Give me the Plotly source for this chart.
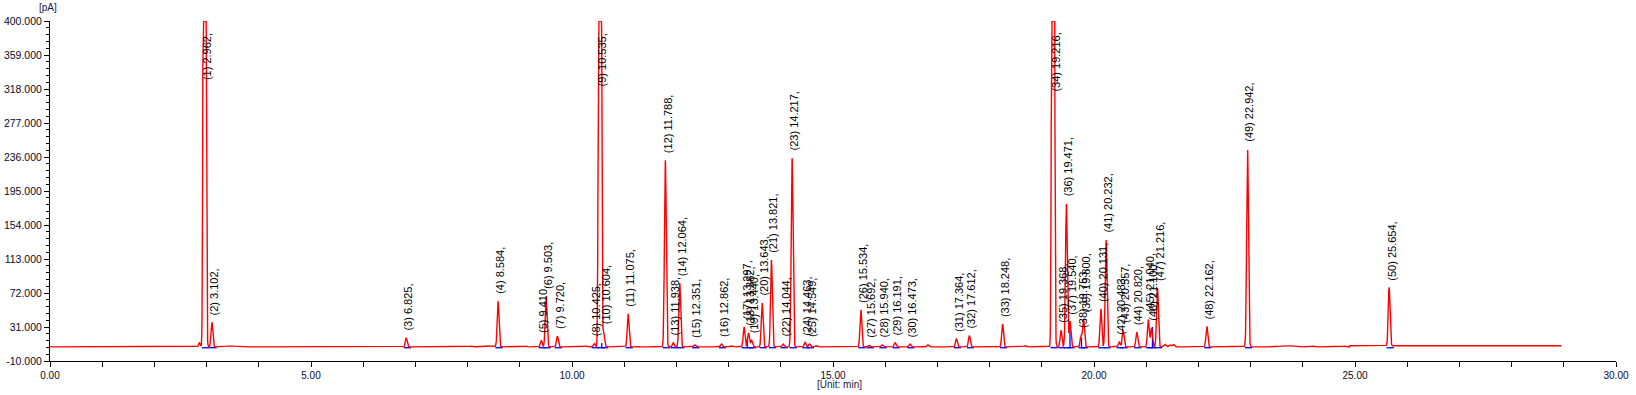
import numpy as np
import plotly.graph_objects as go

# ---- peak table ----
peak_no = list(range(1, 51))
peak_rt = [2.962, 3.102, 6.825, 8.584, 9.410, 9.503, 9.720, 10.425, 10.535, 10.604,
           11.075, 11.788, 11.938, 12.064, 12.351, 12.862, 13.297, 13.382, 13.440, 13.643,
           13.821, 14.044, 14.217, 14.463, 14.549, 15.534, 15.692, 15.940, 16.191, 16.473,
           17.364, 17.612, 18.248, 19.216, 19.368, 19.471, 19.540, 19.753, 19.800, 20.131,
           20.232, 20.483, 20.557, 20.820, 21.040, 21.100, 21.216, 22.162, 22.942, 25.654]
# apex signal in pA (values above 400 are off scale)
peak_height = [2500, 37, 18, 62, 15, 68, 20, 11, 2500, 26,
               47, 232, 12, 84, 9.5, 10.5, 31, 24, 15, 60,
               112, 10.5, 235, 12.5, 10.5, 52, 9, 9.5, 12, 10.5,
               16.5, 20.5, 34.6, 2500, 27, 180, 38, 21, 40, 53,
               136, 13, 27, 25, 40, 30, 78, 32, 246, 78]

# small unlabelled bumps on the baseline (rt, height above baseline, width)
bump_rt = [2.86, 3.45, 8.08, 8.35, 9.12, 10.25, 11.25, 13.05, 14.68, 16.82, 18.68,
           21.36, 21.45, 21.52, 23.70, 24.20, 24.80]
bump_h = [5, 1.2, 1.0, 1.5, 1.0, 1.2, 1.0, 1.2, 1.5, 2.5, 1.5,
          3.0, 2.5, 3.0, 1.5, 1.0, 1.0]
bump_w = [0.015, 0.10, 0.02, 0.10, 0.02, 0.03, 0.03, 0.03, 0.02, 0.02, 0.02,
          0.02, 0.02, 0.02, 0.12, 0.03, 0.03]

# small blue marks (second trace / integration marks)
blue_rt = [10.57, 13.36, 19.540, 19.760, 21.120]
blue_h = [11.7, 16.5, 36, 18, 31]

baseline_early = 7.0
baseline_late = 8.4
baseline_step = 24.9
run_end = 28.96
y_max = 400.0
y_min = -10.0

# ---- build the signal from the peak table ----
t = np.arange(0, run_end, 0.004)
base = np.where(t < baseline_step, baseline_early, baseline_late)
sig = base.copy()
sigma = 0.017
for rt, h in zip(peak_rt, peak_height):
    sig += (h - baseline_early) * np.exp(-0.5 * ((t - rt) / sigma) ** 2)
for rt, h, w in zip(bump_rt, bump_h, bump_w):
    sig += h * np.exp(-0.5 * ((t - rt) / w) ** 2)
sig = np.minimum(sig, y_max)

fig = go.Figure()

# integration baselines (blue) under each labelled peak
bx, by = [], []
for rt in peak_rt:
    bx += [rt - 0.05, rt + 0.09, None]
    by += [baseline_early - 1.0, baseline_early - 1.0, None]
for rt, h in zip(blue_rt, blue_h):
    bx += [rt, rt, None]
    by += [baseline_early, h, None]
fig.add_trace(go.Scatter(x=bx, y=by, mode="lines",
                         line=dict(color="#0000ff", width=1.3),
                         hoverinfo="skip", showlegend=False))

fig.add_trace(go.Scatter(x=t, y=sig, mode="lines",
                         line=dict(color="#ff0000", width=1.4),
                         showlegend=False))

# peak labels
for n, rt, h in zip(peak_no, peak_rt, peak_height):
    txt = f"({n}) {rt:.3f},"
    if h >= y_max:
        fig.add_annotation(x=rt, y=y_max, xref="x", yref="y", text=txt,
                           textangle=-90, showarrow=False, xanchor="center",
                           yanchor="top", yshift=-10, xshift=2,
                           font=dict(family="Liberation Sans, Arial", size=11, color="#000000"))
    else:
        fig.add_annotation(x=rt, y=h, xref="x", yref="y", text=txt,
                           textangle=-90, showarrow=False, xanchor="center",
                           yanchor="bottom", yshift=5, xshift=2,
                           font=dict(family="Liberation Sans, Arial", size=11, color="#000000"))

fig.add_annotation(x=0, y=1, xref="paper", yref="paper", text="[pA]",
                   showarrow=False, xanchor="center", yanchor="bottom",
                   xshift=-2, yshift=6,
                   font=dict(family="Liberation Sans, Arial", size=10, color="#1a1a3a"))
fig.add_annotation(x=15.13, y=0, xref="x", yref="paper", text="[Unit: min]",
                   showarrow=False, xanchor="center", yanchor="top", yshift=-16,
                   font=dict(family="Liberation Sans, Arial", size=10, color="#1a1a3a"))

y_ticks = [-10, 31, 72, 113, 154, 195, 236, 277, 318, 359, 400]
y_ticktext = [f"{v:.3f}" for v in y_ticks]
x_ticks = [0, 5, 10, 15, 20, 25, 30]
x_ticktext = [f"{v:.2f}" for v in x_ticks]

fig.update_layout(
    width=1636, height=395,
    margin=dict(l=50, r=20, t=21, b=34),
    paper_bgcolor="white", plot_bgcolor="white",
    font=dict(family="Liberation Sans, Arial", size=10, color="#0a0a28"),
    xaxis=dict(range=[0, 30], tickmode="array", tickvals=x_ticks, ticktext=x_ticktext,
               ticks="outside", ticklen=5, tickcolor="black", showline=True,
               linecolor="black", linewidth=1, showgrid=False, zeroline=False,
               tickfont=dict(size=10), automargin=False,
               minor=dict(dtick=1, tick0=0, ticks="outside", ticklen=5, tickcolor="black")),
    yaxis=dict(range=[y_min, y_max], tickmode="array", tickvals=y_ticks, ticktext=y_ticktext,
               ticks="outside", ticklen=5, tickcolor="black", showline=True,
               linecolor="black", linewidth=1, showgrid=False, zeroline=False,
               tickfont=dict(size=10.5), automargin=False,
               minor=dict(dtick=8.2, tick0=-10, ticks="outside", ticklen=3, tickcolor="black")),
)

fig.write_html("out.html",
               config={"displayModeBar": False},
               post_script="document.body.style.margin='0';document.body.style.overflow='hidden';")
